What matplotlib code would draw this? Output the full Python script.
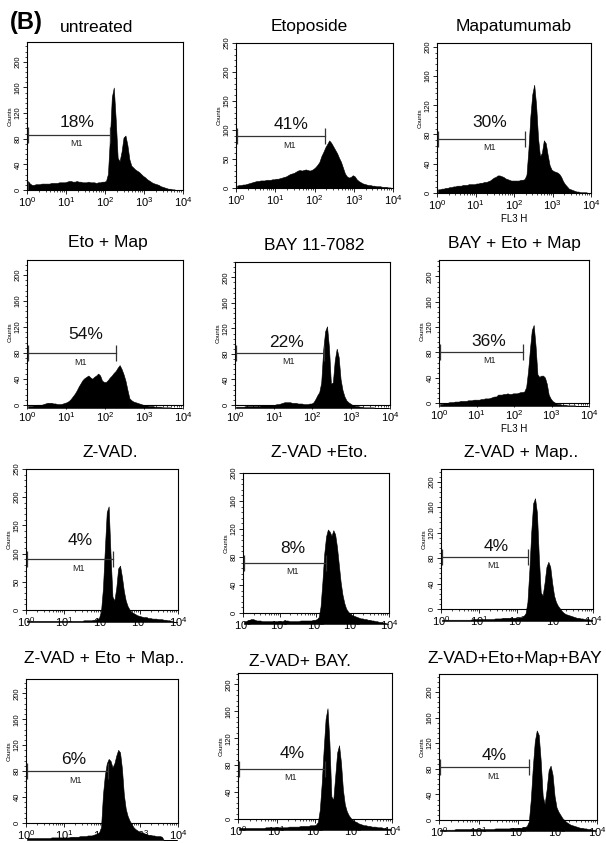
import numpy as np
import matplotlib.pyplot as plt
import matplotlib.transforms as mtransforms
from matplotlib.ticker import MultipleLocator, LogLocator, NullFormatter

plt.rcParams['font.family'] = ['Liberation Sans', 'DejaVu Sans']
plt.rcParams['mathtext.fontset'] = 'custom'
plt.rcParams['mathtext.rm'] = 'Liberation Sans'
plt.rcParams['mathtext.it'] = 'Liberation Sans:italic'
plt.rcParams['mathtext.bf'] = 'Liberation Sans:bold'

# panel labels
titles = ['untreated', 'Etoposide', 'Mapatumumab',
          'Eto + Map', 'BAY 11-7082', 'BAY + Eto + Map',
          'Z-VAD.', 'Z-VAD +Eto.', 'Z-VAD + Map..',
          'Z-VAD + Eto + Map..', 'Z-VAD+ BAY.', 'Z-VAD+Eto+Map+BAY']
percents = ['18%', '41%', '30%', '54%', '22%', '36%',
            '4%', '8%', '4%', '6%', '4%', '4%']

# M1 gate: upper end (FL3 H) and height (counts); label position of the %
gate_hi = [135, 187, 193, 195, 195, 170, 191, 183, 192, 142, 180, 190]
gate_y = [86, 89, 74, 80, 82, 81, 90, 72, 82, 80, 75, 82]
pct_x = [19, 25, 23, 32, 21, 21, 27, 23, 29, 18, 26, 25]
pct_y = [105, 110, 96, 108, 98, 97, 124, 92, 98, 98, 98, 100]

# y-axis range of each panel
ymax = [231, 250, 205, 223, 224, 226, 250, 200, 220, 222, 217, 228]
ystep = [40, 50, 40, 40, 40, 40, 50, 40, 40, 40, 40, 40]

# histogram counts, 20 bins per decade from 10^0 to 10^4
untreated = [14, 10, 8, 8, 9, 9, 9, 10, 10, 10, 10, 10, 11, 11, 11, 11, 12, 12, 12, 12,
             13, 14, 14, 13, 13, 14, 13, 13, 12, 12, 12, 13, 12, 12, 12, 11, 12, 12, 13, 13,
             14, 25, 80, 145, 160, 110, 50, 45, 60, 82, 85, 70, 48, 38, 35, 32, 30, 28, 25, 22,
             20, 17, 15, 13, 11, 10, 9, 8, 6, 5, 4, 3, 2, 2, 1, 1, 0, 0, 0, 0]
etoposide = [4, 5, 5, 6, 6, 7, 8, 9, 10, 11, 12, 12, 13, 13, 13, 14, 14, 14, 15, 15,
             16, 16, 17, 18, 19, 20, 22, 24, 25, 26, 28, 30, 31, 30, 31, 32, 31, 30, 31, 33,
             36, 40, 45, 55, 62, 70, 76, 82, 78, 72, 66, 60, 52, 45, 35, 25, 20, 18, 19, 22,
             20, 15, 12, 10, 8, 7, 6, 5, 5, 4, 4, 3, 3, 3, 2, 2, 2, 1, 1, 0]
mapatumumab = [5, 5, 6, 6, 7, 7, 8, 8, 9, 9, 10, 10, 10, 11, 11, 11, 12, 12, 12, 12,
               13, 13, 14, 14, 15, 15, 16, 17, 19, 21, 22, 24, 24, 23, 22, 20, 19, 18, 17, 17,
               17, 17, 17, 18, 18, 19, 25, 60, 105, 135, 148, 120, 75, 50, 55, 72, 68, 52, 38, 32,
               30, 29, 28, 26, 22, 16, 12, 9, 6, 5, 4, 3, 2, 2, 1, 1, 1, 1, 0, 0]
eto_map = [3, 3, 3, 4, 4, 5, 5, 5, 6, 7, 8, 8, 8, 7, 7, 6, 6, 6, 7, 8,
           9, 11, 14, 18, 22, 27, 33, 38, 43, 46, 48, 50, 47, 45, 48, 50, 53, 50, 42, 40,
           40, 43, 47, 50, 54, 57, 62, 66, 60, 52, 42, 28, 15, 12, 10, 9, 8, 7, 6, 5,
           4, 4, 3, 3, 3, 2, 2, 2, 2, 1, 1, 1, 1, 1, 0, 0, 0, 0, 0, 0]
bay = [2, 2, 2, 2, 2, 3, 3, 3, 3, 3, 3, 3, 3, 4, 4, 4, 4, 4, 5, 5,
       5, 6, 6, 7, 8, 9, 9, 9, 9, 8, 8, 8, 7, 7, 7, 6, 6, 6, 7, 7,
       9, 14, 20, 25, 40, 90, 120, 128, 95, 38, 40, 75, 93, 80, 45, 28, 18, 12, 9, 7,
       5, 4, 3, 3, 2, 2, 1, 1, 1, 1, 1, 1, 0, 0, 0, 0, 0, 0, 0, 0]
bay_eto_map = [3, 3, 4, 5, 5, 6, 6, 6, 7, 7, 7, 8, 8, 8, 8, 9, 9, 9, 10, 10,
               10, 10, 11, 11, 12, 12, 12, 13, 14, 15, 15, 18, 18, 18, 19, 19, 20, 19, 19, 20,
               20, 20, 21, 22, 22, 23, 30, 55, 90, 120, 128, 95, 50, 46, 48, 48, 45, 35, 18, 12,
               8, 6, 4, 3, 3, 2, 2, 2, 1, 1, 1, 1, 1, 0, 0, 0, 0, 0, 0, 0]
zvad = [3, 2, 2, 2, 2, 2, 2, 2, 2, 2, 2, 2, 2, 2, 2, 2, 2, 2, 2, 2,
        2, 2, 2, 2, 2, 2, 2, 2, 2, 2, 3, 3, 3, 3, 3, 4, 4, 5, 8, 20,
        60, 130, 195, 205, 120, 45, 38, 60, 95, 100, 80, 55, 38, 28, 22, 18, 16, 14, 12, 11,
        10, 9, 8, 8, 7, 7, 6, 6, 6, 5, 5, 5, 4, 4, 3, 3, 2, 1, 0, 0]
zvad_eto = [3, 4, 5, 6, 7, 7, 6, 5, 5, 5, 4, 4, 4, 4, 4, 4, 4, 4, 4, 4,
            4, 4, 5, 5, 5, 4, 4, 4, 4, 4, 4, 5, 5, 5, 5, 5, 5, 5, 6, 6,
            7, 10, 25, 60, 100, 125, 135, 132, 126, 134, 128, 110, 85, 60, 42, 30, 22, 18, 15, 13,
            12, 11, 10, 9, 8, 8, 7, 7, 6, 6, 5, 5, 4, 4, 3, 3, 2, 2, 1, 0]
zvad_map = [2, 2, 2, 2, 2, 2, 2, 2, 2, 2, 2, 2, 2, 2, 2, 2, 3, 3, 3, 3,
            3, 3, 3, 3, 3, 3, 3, 3, 4, 4, 4, 4, 5, 5, 5, 5, 5, 5, 5, 5,
            5, 6, 6, 8, 12, 30, 80, 140, 185, 193, 170, 100, 45, 40, 60, 85, 93, 85, 60, 40,
            30, 24, 20, 16, 13, 11, 10, 9, 8, 7, 6, 5, 5, 4, 4, 3, 3, 3, 2, 2]
zvad_eto_map = [3, 3, 3, 3, 3, 3, 3, 3, 3, 3, 3, 3, 3, 4, 4, 4, 4, 4, 4, 4,
                4, 4, 4, 5, 5, 5, 5, 5, 6, 6, 6, 6, 7, 7, 7, 8, 9, 10, 12, 20,
                70, 100, 118, 125, 122, 112, 118, 130, 139, 135, 110, 70, 48, 37, 30, 25, 20, 17, 15, 13,
                12, 11, 10, 9, 8, 8, 7, 7, 6, 6, 6, 5, 0, 0, 0, 0, 0, 0, 0, 0]
zvad_bay = [3, 3, 3, 3, 3, 3, 3, 3, 3, 3, 3, 3, 3, 3, 4, 4, 4, 4, 4, 4,
            4, 4, 4, 4, 4, 4, 5, 5, 5, 5, 5, 5, 6, 6, 6, 6, 6, 7, 7, 7,
            8, 12, 30, 70, 120, 165, 181, 130, 50, 45, 80, 115, 126, 100, 60, 38, 28, 22, 18, 15,
            13, 12, 10, 9, 8, 7, 7, 6, 6, 5, 5, 5, 4, 4, 4, 3, 3, 2, 2, 1]
zvad_all = [2, 2, 2, 2, 2, 2, 2, 2, 3, 3, 3, 3, 3, 3, 3, 3, 3, 3, 3, 3,
            3, 3, 3, 3, 3, 3, 3, 3, 4, 4, 4, 4, 4, 4, 4, 4, 5, 5, 5, 5,
            5, 5, 6, 6, 8, 15, 50, 100, 140, 157, 150, 110, 55, 42, 65, 95, 102, 88, 55, 37,
            30, 25, 20, 17, 14, 12, 10, 9, 8, 7, 6, 5, 5, 4, 4, 3, 3, 2, 2, 1]

histos = [untreated, etoposide, mapatumumab, eto_map, bay, bay_eto_map,
          zvad, zvad_eto, zvad_map, zvad_eto_map, zvad_bay, zvad_all]

# layout (pixels): axes boxes (left, top, right, bottom), title centres, histogram shift
W, H = 606, 843
boxes = [(27, 42, 183, 190), (236, 43, 393, 188), (437, 43, 591, 193),
         (27, 260, 183, 405), (235, 262, 390, 405), (439, 260, 589, 403),
         (26, 469, 178, 610), (243, 473, 389, 613), (441, 469, 593, 609),
         (26, 679, 178, 823), (238, 673, 392, 819), (439, 674, 597, 820)]
title_pos = [(97, 28), (309, 27), (514, 27), (108, 242), (314, 245), (514, 243),
             (110, 452), (319, 452), (521, 452), (104, 658), (300, 662), (515, 658)]
shift = [0, 0, 0, 3, 3, 3, 12, 11, 12, 17, 11, 11]

fig = plt.figure(figsize=(W / 100, H / 100), dpi=100)

centers = 10 ** (np.arange(80) * 0.05 + 0.025)

for i in range(12):
    l, t, r, b = boxes[i]
    ax = fig.add_axes([l / W, 1 - b / H, (r - l) / W, (b - t) / H])
    ax.set_xscale('log')
    ax.set_xlim(1, 1e4)
    ax.set_ylim(0, ymax[i])

    tr = mtransforms.offset_copy(ax.transData, fig=fig, x=0, y=-shift[i], units='dots')
    ax.fill_between(centers, 0, histos[i], color='black', lw=0.4,
                    edgecolor='black', transform=tr, clip_on=False, zorder=2)

    # M1 marker
    gh, gy = gate_hi[i], gate_y[i]
    ax.plot([1.05, gh], [gy, gy], color='#333333', lw=0.9, zorder=3)
    ax.plot([1.05, gh], [gy, gy], ls='none', marker='|', ms=11, mew=0.9,
            color='#333333', zorder=3)
    m1x = 10 ** (0.6 * np.log10(gh))
    ax.annotate('M1', (m1x, gy), xytext=(0, -6.5), textcoords='offset points',
                ha='center', va='center', fontsize=6.5, color='#222222')
    ax.text(pct_x[i], pct_y[i], percents[i], ha='center', va='center',
            fontsize=12.5, color='#111111')

    ax.yaxis.set_major_locator(MultipleLocator(ystep[i]))
    ax.yaxis.set_minor_locator(MultipleLocator(ystep[i] / 5))
    ax.xaxis.set_major_locator(LogLocator(base=10, numticks=10))
    ax.xaxis.set_minor_locator(LogLocator(base=10, subs=np.arange(2, 10), numticks=10))
    ax.xaxis.set_minor_formatter(NullFormatter())
    ax.tick_params(which='major', direction='out', length=3, width=0.6, pad=1)
    ax.tick_params(which='minor', direction='out', length=1.6, width=0.5)
    ax.tick_params(axis='x', labelsize=8)
    ax.tick_params(axis='y', labelsize=5.5, labelrotation=90)
    for lab in ax.get_yticklabels():
        lab.set_va('center')
    for sp in ax.spines.values():
        sp.set_linewidth(0.8)
        sp.set_zorder(2.5)
    ax.set_ylabel('Counts', fontsize=4.5, labelpad=1)
    if i in (2, 5):
        ax.set_xlabel('FL3 H', fontsize=7, labelpad=1)

    tx, ty = title_pos[i]
    fig.text(tx / W, 1 - ty / H, titles[i], ha='center', va='center', fontsize=12.5)

fig.text(26 / W, 1 - 23 / H, '(B)', ha='center', va='center', fontsize=17, fontweight='bold')

fig.savefig('out.png', dpi=100)
